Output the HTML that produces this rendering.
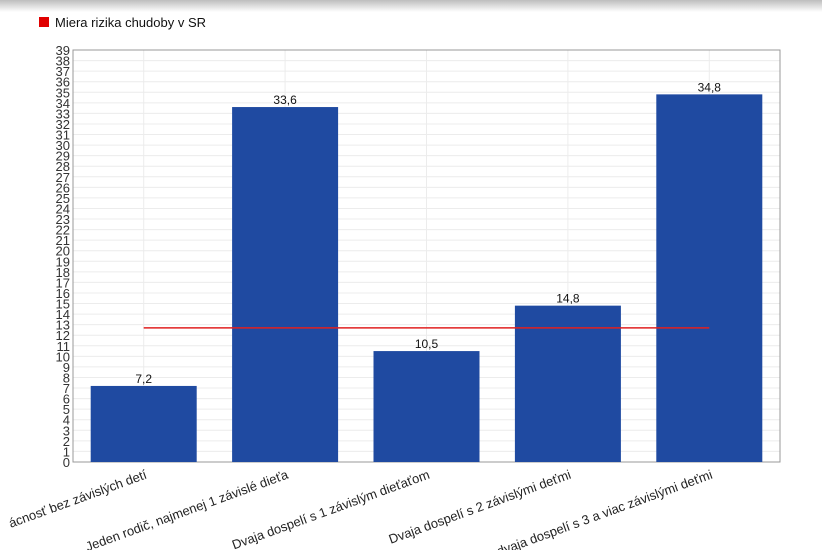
<!DOCTYPE html>
<html><head><meta charset="utf-8"><style>
body{margin:0;background:#fff;overflow:hidden;width:822px;height:550px;font-family:"Liberation Sans",sans-serif}
</style></head><body>
<div style="position:absolute;left:0;top:0;width:822px;height:12px;background:linear-gradient(#bdbdbd,#fff)"></div>
<svg id="c" width="822" height="550" style="position:absolute;left:0;top:0" font-family="Liberation Sans, sans-serif">
<g>
<rect x="39" y="17" width="10" height="10" fill="#e00000"/>
<text x="55" y="27" font-size="13" fill="#111">Miera rizika chudoby v SR</text>
</g>
</svg>
<script>
const categories=["Domácnosť bez závislých detí","Jeden rodič, najmenej 1 závislé dieťa","Dvaja dospelí s 1 závislým dieťaťom","Dvaja dospelí s 2 závislými deťmi","Dvaja dospelí s 3 a viac závislými deťmi"];
const values=[7.2,33.6,10.5,14.8,34.8];
const valueLabels=["7,2","33,6","10,5","14,8","34,8"];
const shownLabels=["ácnosť bez závislých detí","Jeden rodič, najmenej 1 závislé dieťa","Dvaja dospelí s 1 závislým dieťaťom","Dvaja dospelí s 2 závislými deťmi","dvaja dospelí s 3 a viac závislými deťmi"];
const riskRate=[12.7];
const yMax=39;
const svg=document.getElementById('c');const NS="http://www.w3.org/2000/svg";
const L=73,R=780,T=50,B=462;
const y=v=>B-(v/yMax)*(B-T);
const bw=(R-L)/categories.length;
const xc=i=>L+bw*(i+0.5);
function mk(t,a,p){const e=document.createElementNS(NS,t);for(const k in a)e.setAttribute(k,a[k]);(p||svg).appendChild(e);return e;}
const grid=mk('g',{});


for(let v=0;v<=yMax;v++){
 mk('line',{x1:L,x2:R,y1:y(v),y2:y(v),stroke:'#ececec'},grid);
 const t=mk('text',{x:L-3,y:y(v)+5,'text-anchor':'end','font-size':'13',fill:'#333'});
 
 
 t.textContent=v;
}
categories.forEach((c,i)=>mk('line',{x1:xc(i),x2:xc(i),y1:T,y2:B,stroke:'#ececec'},grid));
const frame=mk('rect',{x:L,y:T,width:R-L,height:B-T,fill:'none',stroke:'#999'});


values.forEach((v,i)=>{
 const r=mk('rect',{x:xc(i)-53,y:y(v),width:106,height:B-y(v),fill:'#1f4aa1'});
 
 
 const t=mk('text',{x:xc(i),y:y(v)-3,'text-anchor':'middle','font-size':'12',fill:'#111'});
 
 
 t.textContent=valueLabels[i];
 const lx=xc(i)+4,ly=B+16;
 const xl=mk('text',{x:lx,y:ly,'text-anchor':'end','font-size':'13',fill:'#222',transform:`rotate(-20 ${lx} ${ly})`});
 
 
 xl.textContent=shownLabels[i];
});
const rl=mk('line',{x1:xc(0),x2:xc(categories.length-1),y1:y(riskRate[0]),y2:y(riskRate[0]),stroke:'#e02020','stroke-width':1.5});


</script>
</body></html>
